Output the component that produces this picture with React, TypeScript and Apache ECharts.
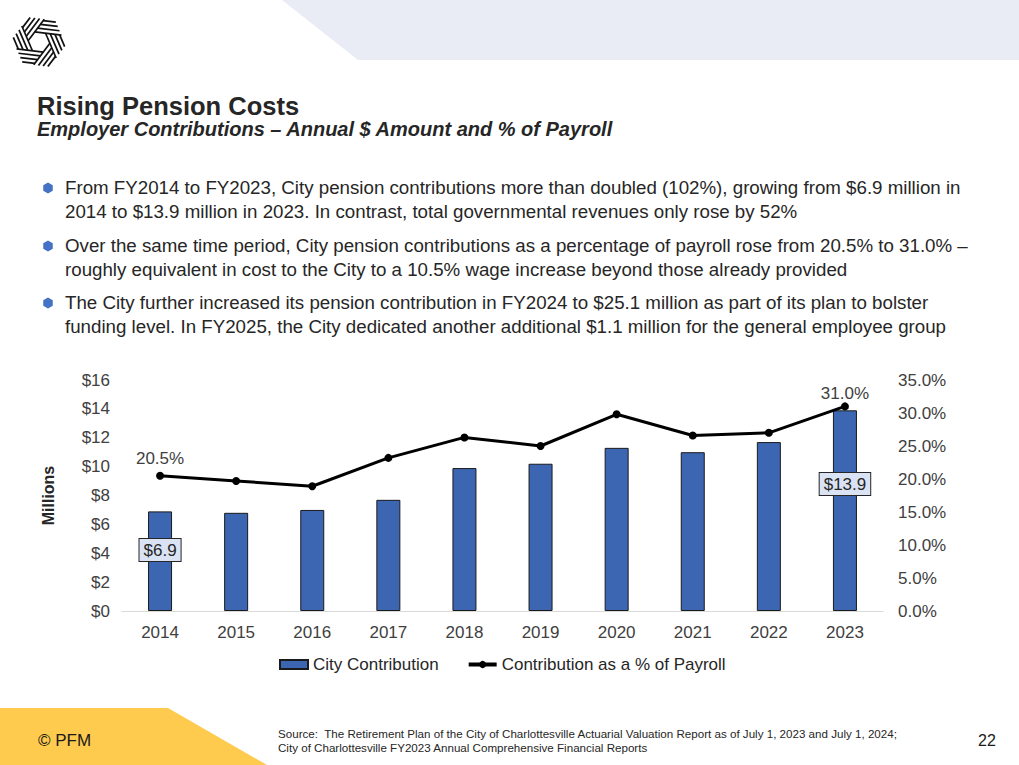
import React, { useEffect, useRef } from "react";
import * as echarts from "echarts";

const categories = ["2014", "2015", "2016", "2017", "2018", "2019", "2020", "2021", "2022", "2023"];
const contributions = [6.9, 6.8, 7.0, 7.7, 9.9, 10.2, 11.3, 11.0, 11.7, 13.9];
const pctPayroll = [20.5, 19.7, 18.9, 23.2, 26.3, 25.0, 29.8, 26.6, 27.0, 31.0];
const leftAxis = { min: 0, max: 16, interval: 2 };
const rightAxis = { min: 0, max: 35, interval: 5 };

const titleText = "Rising Pension Costs";
const subtitleText = "Employer Contributions \u2013 Annual $ Amount and % of Payroll";
const bullets = [
  [
    "From FY2014 to FY2023, City pension contributions more than doubled (102%), growing from $6.9 million in",
    "2014 to $13.9 million in 2023. In contrast, total governmental revenues only rose by 52%",
  ],
  [
    "Over the same time period, City pension contributions as a percentage of payroll rose from 20.5% to 31.0% \u2013",
    "roughly equivalent in cost to the City to a 10.5% wage increase beyond those already provided",
  ],
  [
    "The City further increased its pension contribution in FY2024 to $25.1 million as part of its plan to bolster",
    "funding level. In FY2025, the City dedicated another additional $1.1 million for the general employee group",
  ],
];
const sourceLines = [
  "Source:  The Retirement Plan of the City of Charlottesville Actuarial Valuation Report as of July 1, 2023 and July 1, 2024;",
  "City of Charlottesville FY2023 Annual Comprehensive Financial Reports",
];
const pageNumber = "22";
const copyright = "\u00a9 PFM";

const FONT = "'Liberation Sans', Arial, sans-serif";

function hexPoints(cx: number, cy: number, r: number) {
  const pts: number[][] = [];
  for (let i = 0; i < 6; i++) {
    const a = (Math.PI / 3) * i + Math.PI / 6;
    pts.push([cx + r * Math.cos(a), cy + r * Math.sin(a)]);
  }
  return pts;
}

function logoElements() {
  const els: any[] = [];
  const cx = 39, cy = 42;
  const aIn = 9.5, step = 4.1;
  const aOut = aIn + 3 * step;
  for (let k = 0; k < 6; k++) {
    const th = (Math.PI / 3) * k - Math.PI / 2 + 0.12;
    const nx = Math.cos(th), ny = Math.sin(th);
    const tx = -ny, ty = nx;
    for (let j = 0; j < 4; j++) {
      const d = aIn + j * step;
      const t0 = (0.5 * d - aIn) / 0.866;
      const t1 = (aOut + 1.5 - 0.5 * d) / 0.866;
      els.push({
        type: "line",
        shape: {
          x1: cx + nx * d + tx * t0,
          y1: cy + ny * d + ty * t0,
          x2: cx + nx * d + tx * t1,
          y2: cy + ny * d + ty * t1,
        },
        style: { stroke: "#111", lineWidth: 1.7 },
        silent: true,
      });
    }
  }
  return els;
}

export default function App() {
  const ref = useRef<HTMLDivElement>(null);
  useEffect(() => {
    if (!ref.current) return;
    const chart = echarts.init(ref.current, undefined, { renderer: "svg" });

    const lineYs = [[188, 212], [246, 270], [303, 327]];
    const bulletEls: any[] = [];
    bullets.forEach((lines, i) => {
      bulletEls.push({
        type: "polygon",
        shape: { points: hexPoints(48, lineYs[i][0], 5.5) },
        style: { fill: "#4472C4" },
        silent: true,
      });
      lines.forEach((ln, j) => {
        bulletEls.push({
          type: "text",
          x: 65,
          y: lineYs[i][j],
          scaleX: 1.07,
          style: {
            text: ln,
            font: `17.5px ${FONT}`,
            fill: "#262626",
            verticalAlign: "middle",
          },
          silent: true,
        });
      });
    });

    const option: any = {
      animation: false,
      backgroundColor: "#ffffff",
      textStyle: { fontFamily: FONT },
      graphic: [
        {
          type: "polygon",
          shape: { points: [[282, 0], [1019, 0], [1019, 60], [358, 60]] },
          style: { fill: "#EAECF5" },
          silent: true,
        },
        {
          type: "polygon",
          shape: { points: [[0, 708], [168, 708], [267, 765], [0, 765]] },
          style: { fill: "#FECB4E" },
          silent: true,
        },
        ...logoElements(),
        {
          type: "text",
          x: 37,
          y: 105.5,
          style: { text: titleText, font: `bold 25.5px ${FONT}`, fill: "#262626", verticalAlign: "middle" },
        },
        {
          type: "text",
          x: 37,
          y: 129,
          style: { text: subtitleText, font: `italic bold 20px ${FONT}`, fill: "#262626", verticalAlign: "middle" },
        },
        ...bulletEls,
        {
          type: "text",
          x: 38,
          y: 740,
          style: { text: copyright, font: `17px ${FONT}`, fill: "#1a1a1a", verticalAlign: "middle" },
        },
        {
          type: "text",
          x: 278,
          y: 733,
          style: { text: sourceLines[0], font: `11.6px ${FONT}`, fill: "#262626", verticalAlign: "middle" },
        },
        {
          type: "text",
          x: 278,
          y: 747,
          style: { text: sourceLines[1], font: `11.6px ${FONT}`, fill: "#262626", verticalAlign: "middle" },
        },
        {
          type: "text",
          x: 978,
          y: 740,
          style: { text: pageNumber, font: `16px ${FONT}`, fill: "#1a1a1a", verticalAlign: "middle" },
        },
      ],
      grid: { left: 122, right: 136, top: 380, bottom: 154 },
      legend: {
        left: 274,
        top: 651,
        itemGap: 28,
        itemWidth: 28,
        itemHeight: 9,
        textStyle: { fontSize: 17, color: "#262626", fontFamily: FONT },
        data: [
          { name: "City Contribution", icon: "rect" },
          {
            name: "Contribution as a % of Payroll",
            lineStyle: { width: 4, color: "#000" },
            itemStyle: { color: "#000" },
          },
        ],
      },
      xAxis: {
        type: "category",
        data: categories,
        axisLine: { lineStyle: { color: "#D9D9D9", width: 1 } },
        axisTick: { show: false },
        axisLabel: { fontSize: 17, color: "#404040", margin: 13 },
      },
      yAxis: [
        {
          type: "value",
          min: leftAxis.min,
          max: leftAxis.max,
          interval: leftAxis.interval,
          name: "Millions",
          nameLocation: "middle",
          nameGap: 66,
          nameTextStyle: { fontSize: 16, fontWeight: "bold", color: "#262626" },
          axisLine: { show: false },
          axisTick: { show: false },
          splitLine: { show: false },
          axisLabel: { fontSize: 17, color: "#404040", margin: 12, formatter: (v: number) => "$" + v },
        },
        {
          type: "value",
          min: rightAxis.min,
          max: rightAxis.max,
          interval: rightAxis.interval,
          axisLine: { show: false },
          axisTick: { show: false },
          splitLine: { show: false },
          axisLabel: { fontSize: 17, color: "#404040", margin: 15, formatter: (v: number) => v.toFixed(1) + "%" },
        },
      ],
      series: [
        {
          name: "City Contribution",
          type: "bar",
          yAxisIndex: 0,
          barWidth: 24,
          itemStyle: { color: "#3D66B2", borderColor: "#1a1a1a", borderWidth: 1 },
          data: contributions.map((v, i) => {
            const item: any = { value: v };
            if (i === 0 || i === contributions.length - 1) {
              item.label = {
                show: true,
                position: "insideBottom",
                distance: i === 0 ? 50 : 116,
                formatter: (p: any) => "$" + Number(p.value).toFixed(1),
                fontSize: 17,
                color: "#262626",
                backgroundColor: "#DAE3F3",
                borderColor: "#262626",
                borderWidth: 1,
                padding: [3, 4, 2, 4],
              };
            }
            return item;
          }),
        },
        {
          name: "Contribution as a % of Payroll",
          type: "line",
          yAxisIndex: 1,
          symbol: "circle",
          symbolSize: 8,
          lineStyle: { color: "#000", width: 3 },
          itemStyle: { color: "#000" },
          data: pctPayroll.map((v, i) => {
            const item: any = { value: v };
            if (i === 0 || i === pctPayroll.length - 1) {
              item.label = {
                show: true,
                position: "top",
                distance: i === 0 ? 5 : 0,
                formatter: (p: any) => Number(p.value).toFixed(1) + "%",
                fontSize: 17,
                color: "#404040",
              };
            }
            return item;
          }),
        },
      ],
    };
    chart.setOption(option);
    return () => chart.dispose();
  }, []);
  return (
    <div
      ref={ref}
      style={{ position: "fixed", left: 0, top: 0, width: 1019, height: 765, background: "#fff" }}
    />
  );
}
